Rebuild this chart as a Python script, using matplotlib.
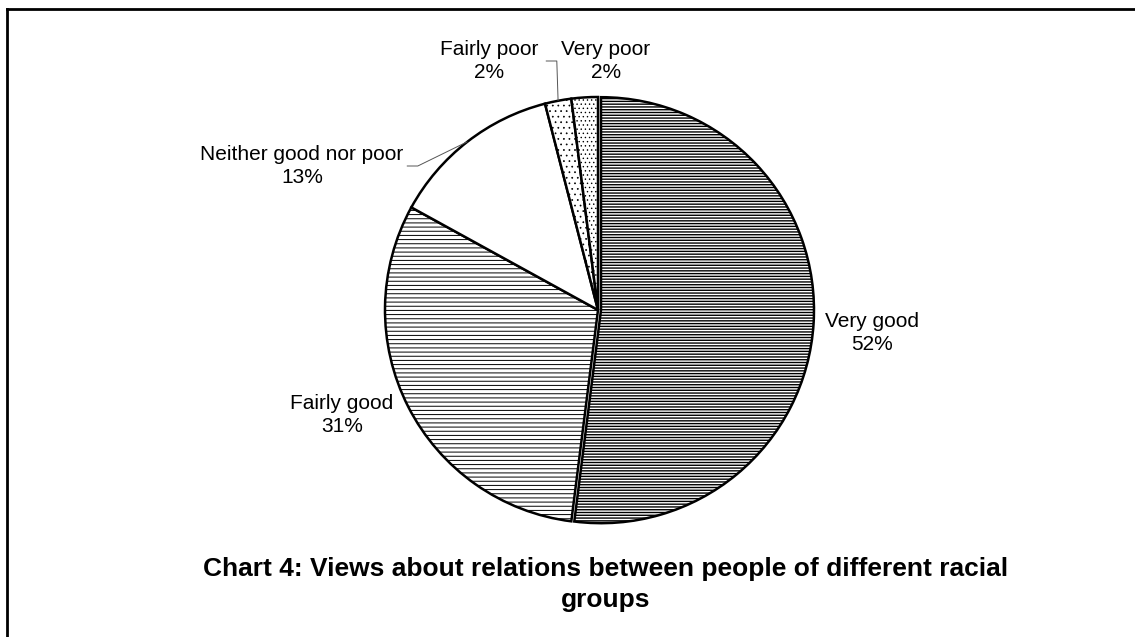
import numpy as np
import matplotlib
matplotlib.use("Agg")
import matplotlib.pyplot as plt
from matplotlib.lines import Line2D

plt.rcParams['font.family'] = ['Liberation Sans', 'DejaVu Sans']

# data
categories = ['Very good', 'Fairly good', 'Neither good nor poor', 'Fairly poor', 'Very poor']
shares = [52, 31, 13, 2, 2]
title = 'Chart 4: Views about relations between people of different racial\ngroups'

# style
hatches = ['------', '----', '', '...', '....']
hatch_lw = [1.0, 0.7, 1.0, 0.5, 0.5]
explode = [3, 0, 0, 0, 0]          # in pixels
W, H = 1135, 637
cx, cy, R = 598, 310, 213          # pie centre/radius, image pixels (y down)

# label centres in image pixels (y down)
label_pos = [(872, 333), (342, 415), (302, 166), (489, 61), (606, 61)]
leader = [False, False, True, True, False]

fig = plt.figure(figsize=(W / 100, H / 100), dpi=100)
ax = fig.add_axes([0, 0, 1, 1])

wedges, _ = ax.pie(shares, startangle=90, counterclock=False,
                   center=(cx, H - cy), radius=R, explode=explode,
                   colors=['white'] * len(shares),
                   wedgeprops=dict(edgecolor='black', linewidth=1.8))
for w, h, lw in zip(wedges, hatches, hatch_lw):
    w.set_hatch(h)
    if hasattr(w, 'set_hatch_linewidth'):
        w.set_hatch_linewidth(lw)

ax.set_xlim(0, W)
ax.set_ylim(0, H)
ax.set_aspect('auto')
ax.axis('off')

for w, cat, val, (lx, ly), lead in zip(wedges, categories, shares, label_pos, leader):
    ax.text(lx, H - ly, f'{cat}\n{val}%', ha='center', va='center',
            fontsize=15, linespacing=1.25, multialignment='center')
    if lead:
        mid = np.deg2rad((w.theta1 + w.theta2) / 2)
        ex, ey = cx + R * np.cos(mid), (H - cy) + R * np.sin(mid)
        # right end of the label's first line
        tw = len(cat) * 9.6 / 2
        x0 = lx + tw + 4
        ax.plot([x0, x0 + 11, ex], [H - ly, H - ly, ey], color='#555555',
                lw=0.7, solid_capstyle='butt')

fig.text(606 / W, 1 - 557 / H, title, ha='center', va='top',
         fontsize=19, fontweight='bold', linespacing=1.38)

# frame (top and left edges visible)
fig.add_artist(Line2D([7 / W, 7 / W], [0, 1 - 9 / H], transform=fig.transFigure,
                      color='black', lw=2))
fig.add_artist(Line2D([7 / W, 1], [1 - 9 / H, 1 - 9 / H], transform=fig.transFigure,
                      color='black', lw=2))

fig.savefig('out.png', dpi=100, facecolor='white')
